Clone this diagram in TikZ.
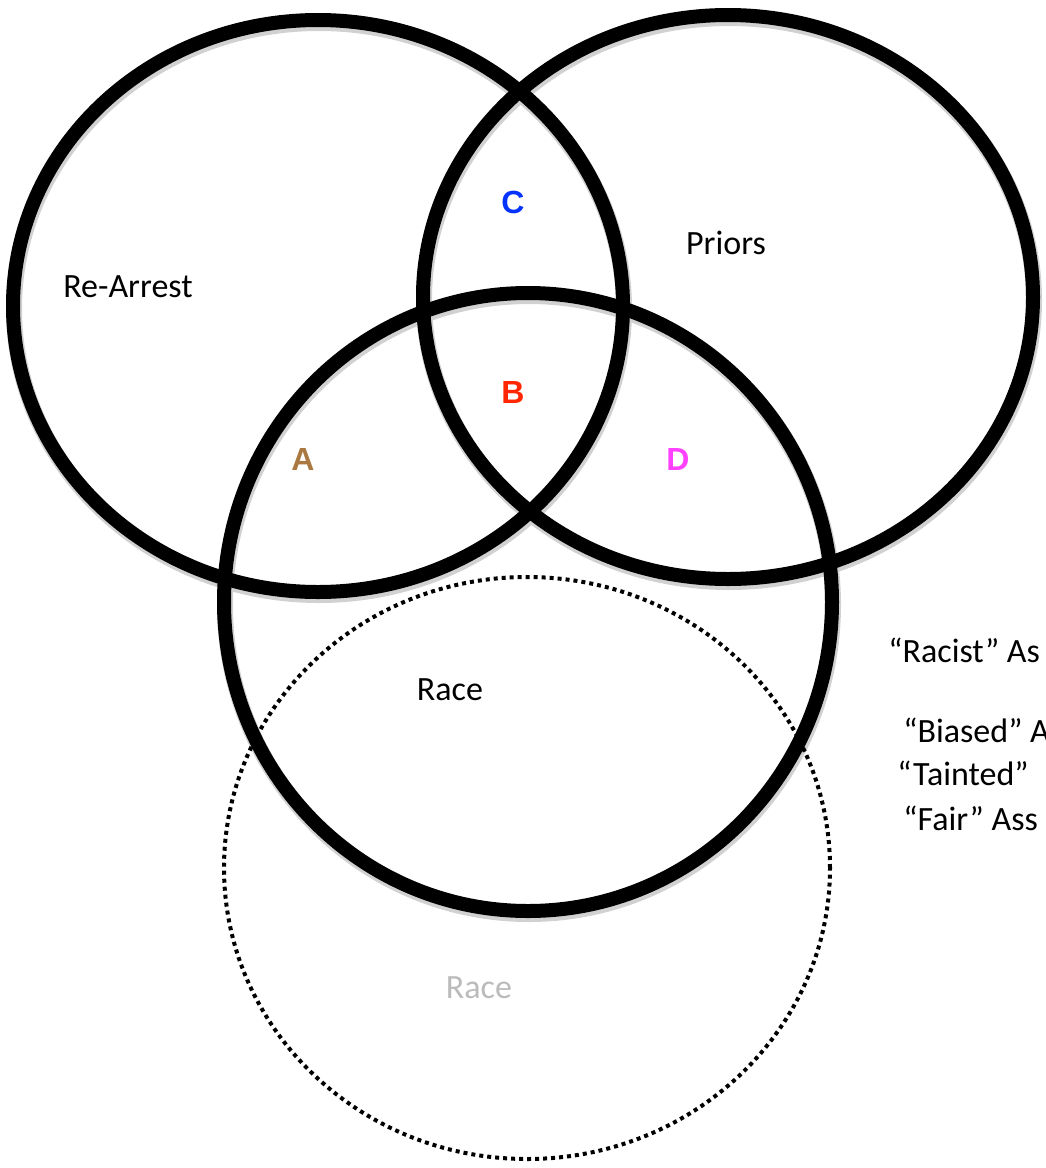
\documentclass[tikz,border=0pt]{standalone}
\usepackage{fontspec}
\setmainfont{Carlito}
\newfontfamily\arialbold{Liberation Sans}[BoldFont={* Bold}]
\definecolor{labA}{HTML}{AA7942}
\definecolor{labB}{HTML}{FF2600}
\definecolor{labC}{HTML}{0433FF}
\definecolor{labD}{HTML}{FF40FF}
\definecolor{paleRace}{HTML}{BBBBBB}
\begin{document}
\begin{tikzpicture}[x=0.5pt,y=-0.5pt,
  ring/.style={draw=black,line width=7pt},
  ringshadow/.style={draw=black!18,line width=8pt},
  dotring/.style={draw=black,line width=2pt,dash pattern=on 2pt off 2pt},
  setlabel/.style={font=\fontsize{17}{20}\selectfont,inner sep=0pt},
  region/.style={font=\arialbold\bfseries\fontsize{16}{19}\selectfont,inner sep=0pt},
  sidetext/.style={font=\fontsize{17}{20}\selectfont,inner sep=0pt,anchor=west}]
\useasboundingbox (0,0) rectangle (1045,1168);
\clip (0,0) rectangle (1045,1168);
% coordinates of circle centres
\coordinate (cRe) at (318,306);
\coordinate (cPr) at (728,297);
\coordinate (cRa) at (528,602);
\coordinate (cDot) at (527,868);
% shadows
\draw[ringshadow] ([shift={(1,3)}]cRe) ellipse [x radius=152.5pt, y radius=143pt];
\draw[ringshadow] ([shift={(1,3)}]cPr) ellipse [x radius=152.5pt, y radius=141pt];
\draw[ringshadow] ([shift={(1,3)}]cRa) ellipse [x radius=152pt, y radius=154.5pt];
% dotted circle
\draw[dotring] (cDot) ellipse [x radius=151.5pt, y radius=145.5pt];
% main circles
\draw[ring] (cRe) ellipse [x radius=152.5pt, y radius=143pt];
\draw[ring] (cPr) ellipse [x radius=152.5pt, y radius=141pt];
\draw[ring] (cRa) ellipse [x radius=152pt, y radius=154.5pt];
% set labels
\node[setlabel] (lRe) at (128,287) {Re-Arrest};
\node[setlabel] (lPr) at (726,243) {Priors};
\node[setlabel] (lRa) at (450,690) {Race};
\node[setlabel,text=paleRace] (lRa2) at (479,988) {Race};
% region labels
\node[region,text=labC] (rC) at (513,202) {C};
\node[region,text=labB] (rB) at (513,392) {B};
\node[region,text=labA] (rA) at (303,459) {A};
\node[region,text=labD] (rD) at (678,459) {D};
% side texts
\node[sidetext] (t1) at (888,650) {“Racist” As};
\node[sidetext] (t2) at (903,730) {“Biased” A};
\node[sidetext] (t3) at (897,773) {“Tainted”};
\node[sidetext] (t4) at (903,818) {“Fair” Ass};
\end{tikzpicture}
\end{document}
